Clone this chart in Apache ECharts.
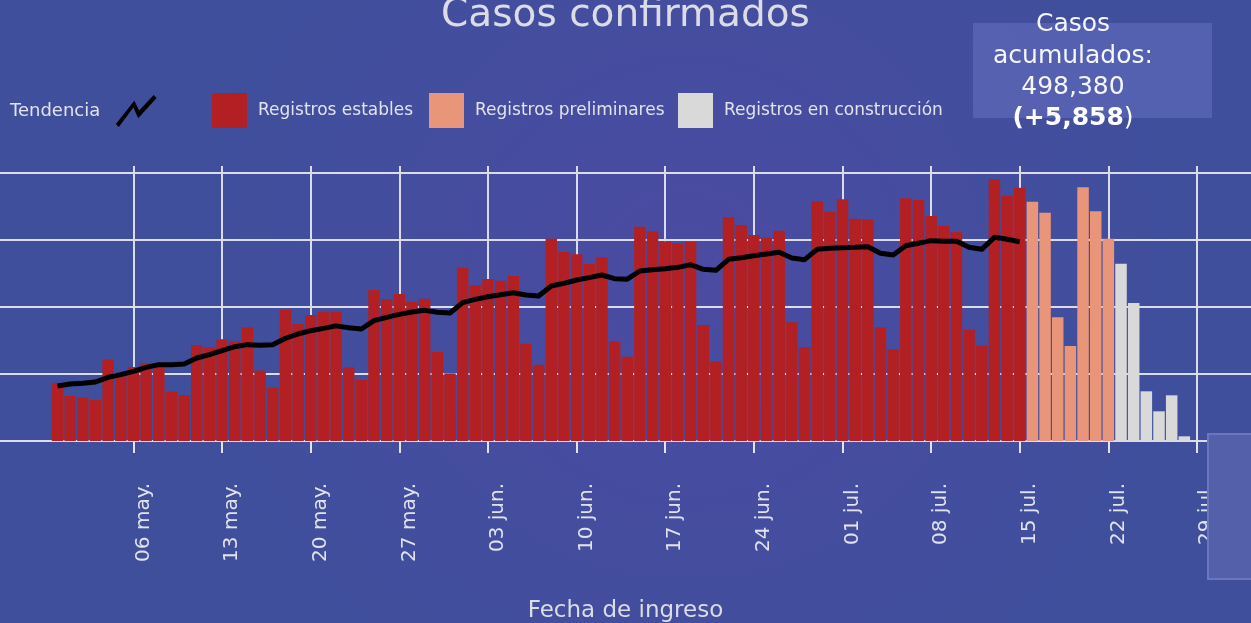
<!DOCTYPE html>
<html>
<head>
<meta charset="utf-8">
<script src="https://cdn.jsdelivr.net/npm/echarts@6/dist/echarts.min.js"></script>
<style>
  html, body { margin: 0; padding: 0; }
  #main { width: 1251px; height: 623px; }
</style>
</head>
<body>
<div id="main"></div>
<script>
// dias: 30 abr. -> 29 jul.
var meses = [['abr.', 30, 30], ['may.', 1, 31], ['jun.', 1, 30], ['jul.', 1, 29]];
var fechas = [];
meses.forEach(function (m) {
    for (var d = m[1]; d <= m[2]; d++) {
        fechas.push((d < 10 ? '0' + d : '' + d) + ' ' + m[0]);
    }
});

// 30 abr. - 15 jul.
var estables = [
    1722, 1343, 1303, 1224, 2438, 2020, 2209, 2318, 2318, 1473, 1373, 2866, 2796, 3035, 2975, 3393,
    2100, 1592, 3910, 3492, 3761, 3860, 3860, 2199, 1821, 4507, 4239, 4388, 4159, 4249, 2657, 2020,
    5174, 4647, 4836, 4786, 4925, 2905, 2279, 6040, 5642, 5572, 5284, 5483, 2975, 2517,
    6398, 6259, 5960, 5900, 5940, 3463, 2378, 6677, 6448, 6149, 6069, 6278, 3543, 2806,
    7155, 6845, 7214, 6636, 6617, 3393, 2737, 7244, 7194, 6716, 6418, 6239, 3323, 2846, 7811, 7313, 7562
];
// 16 jul. - 22 jul.
var preliminares = [7144, 6816, 3692, 2836, 7572, 6856, 6040];
// 23 jul. - 28 jul.
var construccion = [5294, 4120, 1483, 886, 1364, 140];
// 30 abr. - 15 jul.
var tendencia = [
    1642, 1701, 1722, 1761, 1901, 1980, 2080, 2199, 2279, 2279, 2299, 2478, 2577, 2696, 2816, 2876,
    2856, 2876, 3065, 3194, 3293, 3363, 3437, 3383, 3343, 3592, 3692, 3781, 3851, 3900, 3841, 3821,
    4129, 4229, 4308, 4368, 4427, 4358, 4328, 4627, 4707, 4806, 4876, 4955, 4845, 4830,
    5075, 5114, 5144, 5184, 5263, 5124, 5095, 5423, 5473, 5532, 5582, 5632, 5463, 5413,
    5722, 5752, 5771, 5781, 5801, 5602, 5552, 5830, 5905, 5980, 5960, 5960, 5781, 5722, 6080, 6020, 5950
];

var n0 = estables.length, n1 = preliminares.length;
function relleno(antes, arr, total) {
    var out = [];
    for (var i = 0; i < total; i++) {
        var j = i - antes;
        out.push(j >= 0 && j < arr.length ? arr[j] : null);
    }
    return out;
}
var N = fechas.length;
var dEstables = relleno(0, estables, N);
var dPrelim = relleno(n0, preliminares, N);
var dConstr = relleno(n0 + n1, construccion, N);
var dTend = relleno(0, tendencia, N);

var semanal = function (idx) { return idx % 7 === 6; };
var blanco = '#e2e2ec';
var fuente = 'DejaVu Sans';

var chart = echarts.init(document.getElementById('main'));
chart.setOption({
    animation: false,
    backgroundColor: {
        type: 'radial', x: 0.55, y: 0.45, r: 0.8,
        colorStops: [
            { offset: 0, color: '#4b4ba2' },
            { offset: 1, color: '#3f4f9c' }
        ]
    },
    textStyle: { fontFamily: fuente },
    legend: [
        {
            data: ['Tendencia'], left: 5, top: 90, align: 'right',
            itemWidth: 42, itemHeight: 32,
            icon: 'path://M0,30 L19,6 L24,16 L39,0 L42,3 L23,24 L18,13 L3,33 Z',
            textStyle: { color: blanco, fontSize: 18, fontFamily: fuente, padding: [0, 10, 0, 0] }
        },
        {
            data: ['Registros estables'], left: 207, top: 88, icon: 'rect',
            itemWidth: 35, itemHeight: 35,
            textStyle: { color: blanco, fontSize: 17, fontFamily: fuente, padding: [0, 0, 0, 6] }
        },
        {
            data: ['Registros preliminares'], left: 424, top: 88, icon: 'rect',
            itemWidth: 35, itemHeight: 35,
            textStyle: { color: blanco, fontSize: 17, fontFamily: fuente, padding: [0, 0, 0, 6] }
        },
        {
            data: ['Registros en construcción'], left: 673, top: 88, icon: 'rect',
            itemWidth: 35, itemHeight: 35,
            textStyle: { color: blanco, fontSize: 17, fontFamily: fuente, padding: [0, 0, 0, 6] }
        }
    ],
    grid: [
        { left: 57.5, right: 54, top: 166, bottom: 182 },
        { left: 0, right: 0, top: 173, bottom: 182 }
    ],
    xAxis: [
        {
            type: 'category', gridIndex: 0, data: fechas, boundaryGap: false,
            axisLine: { show: false },
            axisTick: { show: true, interval: semanal, length: 12, lineStyle: { color: blanco, width: 2 } },
            axisLabel: {
                interval: semanal, rotate: 90, margin: 42, color: blanco, fontSize: 20,
                fontFamily: fuente, verticalAlign: 'top'
            },
            splitLine: { show: true, interval: semanal, lineStyle: { color: '#dcdce8', width: 2 } }
        },
        { type: 'value', gridIndex: 1, show: false, min: 0, max: 1 }
    ],
    yAxis: [
        { type: 'value', gridIndex: 0, min: 0, max: 8209, show: false, splitLine: { show: false } },
        {
            type: 'value', gridIndex: 1, min: 0, max: 8000, interval: 2000,
            axisLine: { show: false }, axisTick: { show: false }, axisLabel: { show: false },
            splitLine: { show: true, lineStyle: { color: '#dcdce8', width: 2 } }
        }
    ],
    series: [
        {
            name: 'Registros estables', type: 'bar', stack: 'casos', data: dEstables,
            barWidth: 11.5, itemStyle: { color: '#b22024' }
        },
        {
            name: 'Registros preliminares', type: 'bar', stack: 'casos', data: dPrelim,
            barWidth: 11.5, itemStyle: { color: '#e9957a' }
        },
        {
            name: 'Registros en construcción', type: 'bar', stack: 'casos', data: dConstr,
            barWidth: 11.5, itemStyle: { color: '#d9d9d9' }
        },
        {
            name: 'Tendencia', type: 'line', data: dTend, symbol: 'none', z: 5,
            itemStyle: { color: '#000' },
            lineStyle: { color: '#000', width: 5, join: 'round' }
        }
    ],
    graphic: [
        {
            type: 'text', left: 'center', top: -4,
            style: { text: 'Casos confirmados', fill: '#dcdce6', font: '39px "DejaVu Sans"' }
        },
        {
            type: 'rect', left: 973, top: 23, z: 0,
            shape: { width: 239, height: 95 },
            style: { fill: 'rgba(105,115,195,0.5)' }
        },
        {
            type: 'group', left: 1093 - 100, top: 12, z: 10,
            children: [
                { type: 'text', x: 100, y: 16, style: { text: 'Casos', fill: '#f6f6fa', font: '25px "DejaVu Sans"', align: 'center', verticalAlign: 'middle' } },
                { type: 'text', x: 100, y: 48, style: { text: 'acumulados:', fill: '#f6f6fa', font: '25px "DejaVu Sans"', align: 'center', verticalAlign: 'middle' } },
                { type: 'text', x: 100, y: 79, style: { text: '498,380', fill: '#f6f6fa', font: '25px "DejaVu Sans"', align: 'center', verticalAlign: 'middle' } },
                {
                    type: 'text', x: 100, y: 110,
                    style: {
                        text: '{b|(+5,858}{n|)}', align: 'center', verticalAlign: 'middle',
                        rich: {
                            b: { fill: '#ffffff', fontSize: 25, fontWeight: 'bold', fontFamily: fuente },
                            n: { fill: '#ffffff', fontSize: 25, fontFamily: fuente }
                        }
                    }
                }
            ]
        },
        {
            type: 'rect', left: 1207, top: 433, z: 20,
            shape: { width: 50, height: 145 },
            style: { fill: '#5560aa', stroke: '#6a76c0', lineWidth: 2 }
        },
        {
            type: 'text', left: 'center', top: 600,
            style: { text: 'Fecha de ingreso', fill: '#dcdce6', font: '23px "DejaVu Sans"' }
        }
    ]
});
</script>
</body>
</html>
